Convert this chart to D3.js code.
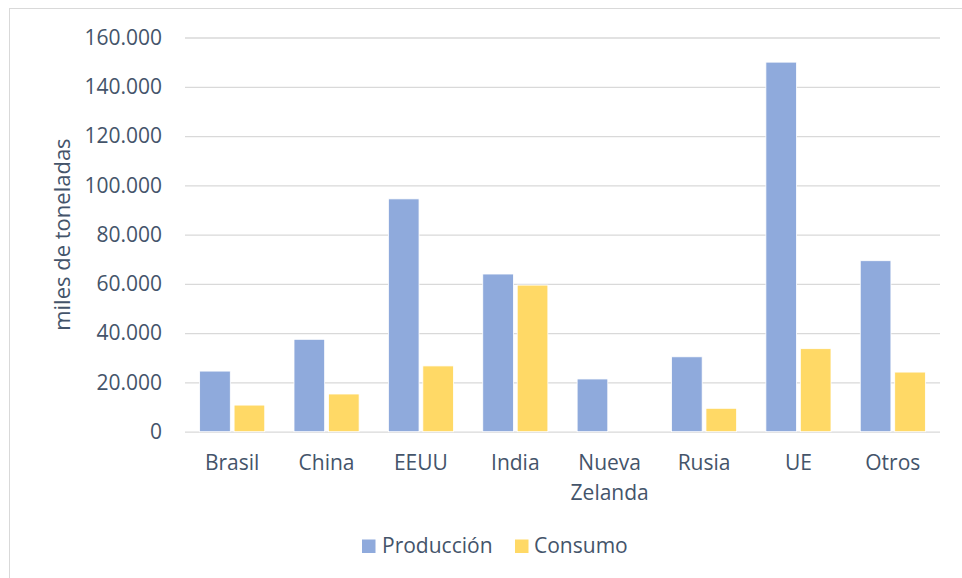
<!DOCTYPE html>
<html><head><meta charset="utf-8">
<script src="https://cdn.jsdelivr.net/npm/d3@7/dist/d3.min.js"></script>
<style>
body{margin:0;background:#fff;}
text{font-family:"Open Sans","Noto Sans",sans-serif;fill:#44546A;}
</style></head>
<body><svg id="c" width="962" height="578"></svg>
<script>
const categories = ["Brasil","China","EEUU","India","Nueva Zelanda","Rusia","UE","Otros"];
const produccion = [24600, 37500, 94500, 64000, 21400, 30400, 150000, 69400];
const consumo = [10800, 15300, 26700, 59500, 0, 9500, 33700, 24200];
const seriesNames = ["Producción","Consumo"];
const seriesColors = ["#8FAADC","#FFD966"];
const yTicks = [0,20000,40000,60000,80000,100000,120000,140000,160000];

const svg = d3.select("#c");
const L = 185, R = 940, T = 37.5, B = 431.7;
// outer border
svg.append("rect").attr("x",9.5).attr("y",8.5).attr("width",962).attr("height",580)
  .attr("fill","none").attr("stroke","#D9D9D9").attr("stroke-width",1);

const x = d3.scaleBand().domain(categories).range([L,R]).paddingInner(0.31).paddingOuter(0.155);
const x1 = d3.scaleBand().domain(seriesNames).range([0,x.bandwidth()]).paddingInner(0.11);
const y = d3.scaleLinear().domain([0,160000]).range([B,T]);

const fmt = v => d3.format(",")(v).replace(/,/g,".");

// grid
const yAxis = d3.axisLeft(y).tickValues(yTicks).tickSize(-(R-L)).tickFormat(fmt).tickPadding(23);
const gy = svg.append("g").attr("transform",`translate(${L},0)`).call(yAxis);
gy.select(".domain").remove();
gy.selectAll(".tick line").attr("stroke","#D9D9D9").attr("stroke-width",1.3);
gy.selectAll(".tick text").attr("font-size",21).style("fill","#44546A").attr("font-family","'Open Sans',sans-serif");

// bars
const data = [produccion, consumo];
categories.forEach((c,i)=>{
  seriesNames.forEach((s,j)=>{
    const v = data[j][i];
    svg.append("rect")
      .attr("x", x(c)+x1(s)).attr("y", y(v))
      .attr("width", x1.bandwidth()).attr("height", y(0)-y(v))
      .attr("fill", seriesColors[j]).attr("stroke","#fff").attr("stroke-width",0.8);
  });
});

// x labels
const xl = svg.append("g");
categories.forEach(c=>{
  const words = c.split(" ");
  const t = xl.append("text").attr("x", x(c)+x.bandwidth()/2).attr("y", 470)
    .attr("text-anchor","middle").attr("font-size",21);
  words.forEach((w,k)=>{
    t.append("tspan").attr("x", x(c)+x.bandwidth()/2).attr("dy", k===0?0:30).text(w);
  });
});

// y label
svg.append("text").attr("transform",`translate(70,${(T+B)/2}) rotate(-90)`)
  .attr("text-anchor","middle").attr("font-size",22).text("miles de toneladas");

// legend
const leg = [{x:362, tx:382},{x:515, tx:534}];
seriesNames.forEach((s,j)=>{
  svg.append("rect").attr("x",leg[j].x).attr("y",539.5).attr("width",13.5).attr("height",13.5).attr("fill",seriesColors[j]);
  svg.append("text").attr("x",leg[j].tx).attr("y",553).attr("font-size",21).text(s);
});
</script></body></html>
